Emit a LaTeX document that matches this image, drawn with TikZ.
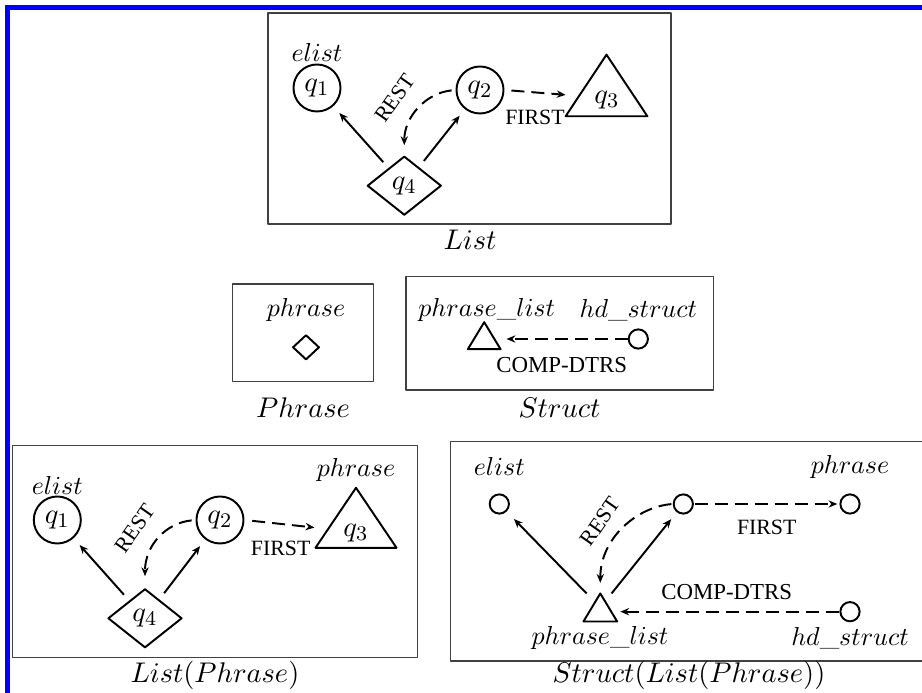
\documentclass[tikz,border=0pt]{standalone}
\usepackage{fontspec}
\newfontfamily\capsfont{Liberation Serif}
\usetikzlibrary{shapes.geometric,arrows.meta,calc}
\begin{document}
\begin{tikzpicture}[x=0.385pt,y=-0.385pt, line join=round,
  every node/.style={inner sep=0pt},
  box/.style={draw=black!75, line width=0.45pt},
  bigc/.style={circle, draw, line width=0.75pt, minimum size=18.1pt, inner sep=0pt},
  smallc/.style={circle, draw, line width=0.75pt, minimum size=7.4pt, inner sep=0pt},
  dia/.style={diamond, draw, line width=0.75pt, minimum width=28.5pt, minimum height=22.7pt, inner sep=0pt},
  sdia/.style={diamond, draw, line width=0.75pt, minimum width=10.3pt, minimum height=9.6pt, inner sep=0pt},
  tribox/.style={rectangle, inner sep=0pt},
  triline/.style={line width=0.75pt},
  arr/.style={line width=0.75pt, -{Stealth[length=3.4pt,width=2.8pt]}},
  dsh/.style={arr, dash pattern=on 5pt off 2.7pt},
  mlab/.style={font=\fontsize{10}{12}\selectfont},
  qlab/.style={font=\fontsize{11}{13}\selectfont},
  title/.style={font=\fontsize{10.7}{13}\selectfont},
  flab/.style={font=\capsfont\fontsize{8.4}{10}\selectfont},
  clab/.style={font=\capsfont\fontsize{8.8}{10}\selectfont}
]
\useasboundingbox (0,0) rectangle (922,693);
\fill[blue] (5,5) rectangle (922,10);
\fill[blue] (5,5) rectangle (10,693);

% ---------- List (top) ----------
\draw[box] (268,13) rectangle (671,224);
\node[bigc, qlab] (a1) at (317,88) {$q_1$};
\node[mlab] (a1l) at (317,52) {$elist$};
\node[bigc, qlab] (a2) at (480,90) {$q_2$};
\node[tribox, minimum width=31.1pt, minimum height=23.3pt] (a3) at (606.5,85.5) {};
\draw[triline] (a3.south west) -- (a3.south east) -- (a3.north) -- cycle;
\node[qlab] (a3q) at (607,100) {$q_3$};
\node[dia, qlab] (a4) at (404.3,185.7) {$q_4$};
\draw[arr, shorten <=3pt, shorten >=3.5pt] (a4) -- (a1);
\draw[arr, shorten <=3pt, shorten >=3.2pt] (a4) -- (a2);
\draw[dsh, shorten <=1.5pt, shorten >=3.9pt] (a2.west) .. controls +(-30,3) and +(0,-38) .. (a4.north);
\draw[dsh, shorten <=2.7pt] (a2.east) -- ([yshift=-3.6pt]a3.west);
\node[flab, rotate=55] (aR) at (395,98) {REST};
\node[flab] (aF) at (535,117) {FIRST};
\node[title] (tA) at (470,240) {$List$};

% ---------- Phrase ----------
\draw[box] (232.7,284) rectangle (373.3,381.7);
\node[sdia] (p1) at (306,347.3) {};
\node[mlab] (p1l) at (306,310) {$phrase$};
\node[title] (tP) at (303,408) {$Phrase$};

% ---------- Struct ----------
\draw[box] (406,276.7) rectangle (713.3,390);
\node[tribox, minimum width=12.2pt, minimum height=10pt] (m1) at (484.2,335.7) {};
\draw[triline] (m1.south west) -- (m1.south east) -- (m1.north) -- cycle;
\node[mlab] (m1l) at (486.7,310) {$phrase\_list$};
\node[smallc] (m2) at (638.3,339) {};
\node[mlab] (m2l) at (638.3,310) {$hd\_struct$};
\draw[dsh, shorten >=2.3pt] (m2) -- (m2 -| m1.east);
\node[clab] (mC) at (561.7,365) {COMP-DTRS};
\node[title] (tS) at (559.5,408) {$Struct$};

% ---------- List(Phrase) ----------
\draw[box] (12.7,445.7) rectangle (417.7,657.7);
\node[bigc, qlab] (b1) at (57.3,520) {$q_1$};
\node[mlab] (b1l) at (57.3,485) {$elist$};
\node[bigc, qlab] (b2) at (220,520) {$q_2$};
\node[tribox, minimum width=30.8pt, minimum height=22.7pt] (b3) at (356,517.8) {};
\draw[triline] (b3.south west) -- (b3.south east) -- (b3.north) -- cycle;
\node[qlab] (b3q) at (356,533) {$q_3$};
\node[mlab] (b3l) at (356,470) {$phrase$};
\node[dia, qlab] (b4) at (145,618.3) {$q_4$};
\draw[arr, shorten <=3pt, shorten >=3.5pt] (b4) -- (b1);
\draw[arr, shorten <=3pt, shorten >=3.2pt] (b4) -- (b2);
\draw[dsh, shorten <=1.5pt, shorten >=4.5pt] (b2.west) .. controls +(-30,3) and +(0,-42) .. (b4.north);
\draw[dsh, shorten <=3pt, shorten >=0.4pt] (b2.east) -- ([yshift=-3.8pt]b3.west);
\node[flab, rotate=55] (bR) at (134.7,528.3) {REST};
\node[flab] (bF) at (280.7,548) {FIRST};
\node[title] (tB) at (215,675) {$List(Phrase)$};

% ---------- Struct(List(Phrase)) ----------
\draw[box] (450.5,441.7) rectangle (925,661);
\node[smallc] (c1) at (499.3,504) {};
\node[mlab] (c1l) at (499.3,466.7) {$elist$};
\node[smallc] (c2) at (683.3,504) {};
\node[smallc] (c3) at (850,504) {};
\node[mlab] (c3l) at (850,466.7) {$phrase$};
\node[tribox, minimum width=12.6pt, minimum height=10.4pt] (c4) at (600.3,607.5) {};
\draw[triline] (c4.south west) -- (c4.south east) -- (c4.north) -- cycle;
\node[mlab] (c4l) at (600,638.3) {$phrase\_list$};
\node[smallc] (c5) at (850,611.7) {};
\node[mlab] (c5l) at (850,638.3) {$hd\_struct$};
\draw[arr, shorten >=4pt] (c4) -- (c1);
\draw[arr, shorten >=3.4pt] (c4) -- (c2);
\draw[dsh, shorten <=0.5pt, shorten >=4.1pt] (c2.west) .. controls +(-36,3) and +(0,-55) .. (c4.north);
\draw[dsh, shorten <=0.3pt, shorten >=0.8pt] (c2) -- (c3);
\draw[dsh, shorten >=1.2pt] (c5) -- (c5 -| c4.east);
\node[flab, rotate=55] (cR) at (600.3,521.7) {REST};
\node[flab] (cF) at (766.7,527.3) {FIRST};
\node[clab] (cC) at (726.7,591.7) {COMP-DTRS};
\node[title] (tC) at (689,675) {$Struct(List(Phrase))$};
\end{tikzpicture}
\end{document}
